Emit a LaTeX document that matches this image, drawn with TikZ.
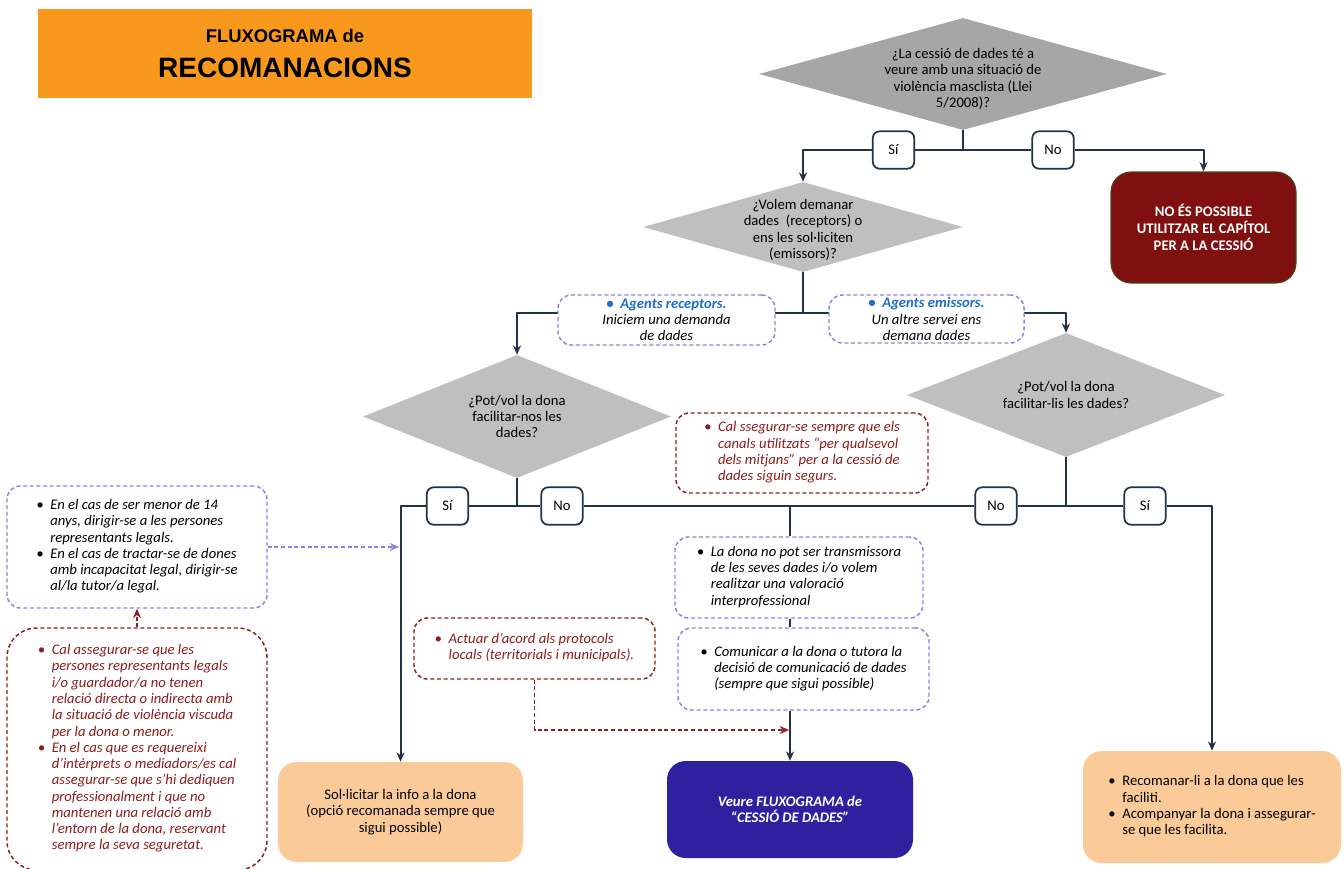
\documentclass[tikz,border=0pt]{standalone}
\usepackage{fontspec}
\setmainfont{Carlito}
\newfontfamily\arialfont{Liberation Sans}
\usetikzlibrary{shapes.geometric,arrows.meta}
\definecolor{orangetitle}{RGB}{248,153,29}
\definecolor{greydark}{RGB}{166,166,166}
\definecolor{greylight}{RGB}{191,191,191}
\definecolor{flowline}{RGB}{35,50,70}
\definecolor{wine}{RGB}{140,30,30}
\definecolor{stopred}{RGB}{128,16,16}
\definecolor{lila}{RGB}{140,130,230}
\definecolor{peach}{RGB}{250,203,153}
\definecolor{indigo}{RGB}{47,32,160}
\definecolor{agentblue}{RGB}{30,110,200}
\begin{document}
\begin{tikzpicture}[x=0.75pt, y=-0.75pt, >={Stealth[length=7pt,width=6pt]}, line join=round,
	font=\fontsize{11}{12.2}\selectfont,
	decision/.style={diamond, fill=greylight, inner sep=-4pt, align=center},
	answer/.style={draw=flowline, line width=1.3pt, fill=white, rounded corners=5pt, minimum width=31pt, minimum height=28pt, inner sep=0pt},
	flow/.style={draw=flowline, line width=1.5pt},
	hint/.style={draw=lila, line width=1.1pt, dash pattern=on 3pt off 2pt, fill=white, rounded corners=10pt, inner sep=0pt, font=\fontsize{11}{12.2}\selectfont\itshape},
	warn/.style={hint, draw=wine, text=wine},
	hintline/.style={lila, line width=1.1pt, dash pattern=on 3pt off 2pt},
	warnline/.style={hintline, wine},
	result/.style={fill=peach, rounded corners=14pt, inner sep=0pt, align=center}]
	\path[use as bounding box, fill=white] (0,0) rectangle (1344,868);
	\path (963,150) coordinate (j1)
		(803,313) coordinate (j2)
		(517,506) coordinate (j3)
		(1066,506) coordinate (j4)
		(790,506) coordinate (j5)
		(789,730) coordinate (j6)
		(399,547) coordinate (j7);
	\node[fill=orangetitle, minimum width=370.5pt, minimum height=66.75pt, align=center, font=\arialfont\bfseries\fontsize{21}{26}\selectfont] (title) at (285,53.5) {{\fontsize{13.8}{16}\selectfont FLUXOGRAMA de}\\RECOMANACIONS};
	\node[decision, fill=greydark, shape aspect=3.64, minimum width=306pt, minimum height=84pt] (d1) at (963,74) {\rule{0pt}{15pt}¿La cessió de dades té a\\veure amb una situació de\\violència masclista (Llei\\5/2008)?};
	\node[answer] (si1) at (893.5,150) {Sí};
	\node[answer] (no1) at (1053,150) {No};
	\node[fill=stopred, draw={rgb,255:red,70;green,70;blue,30}, line width=0.8pt, rounded corners=15pt, minimum width=138.75pt, minimum height=83.25pt, text=white, font=\fontsize{11}{12.5}\selectfont\bfseries, align=center] (stop) at (1203.5,227.5) {NO ÉS POSSIBLE\\UTILITZAR EL CAPÍTOL\\PER A LA CESSIÓ};
	\node[decision, shape aspect=3.56, minimum width=240pt, minimum height=67.5pt] (d2) at (803,227) {\rule{0pt}{12pt}¿Volem demanar\\dades\ \ (receptors) o\\ens les sol·liciten\\(emissors)?};
	\node[decision, shape aspect=2.5, minimum width=231pt, minimum height=92.25pt] (d3) at (517,416.5) {¿Pot/vol la dona\\facilitar-nos les\\dades?};
	\node[decision, shape aspect=2.56, minimum width=238.5pt, minimum height=93pt] (d4) at (1066,395) {¿Pot/vol la dona\\facilitar-lis les dades?};
	\node[warn, minimum width=189pt, minimum height=60pt] (note) at (802,453) {\begin{tabular}{@{}l@{\hspace{5pt}}l@{}}
		\textbullet & Cal ssegurar-se sempre que els\\
		& canals utilitzats “per qualsevol\\
		& dels mitjans” per a la cessió de\\
		& dades siguin segurs.
	\end{tabular}};
	\node[answer] (si2) at (447.5,506) {Sí};
	\node[answer] (no2) at (562,506) {No};
	\node[answer] (no3) at (996,506) {No};
	\node[answer] (si3) at (1145,506) {Sí};
	\node[hint, minimum width=195pt, minimum height=91.5pt] (minor) at (137,547) {\begin{tabular}{@{}l@{\hspace{5pt}}l@{}}
		\textbullet & En el cas de ser menor de 14\\
		& anys, dirigir-se a les persones\\
		& representants legals.\\
		\textbullet & En el cas de tractar-se de dones\\
		& amb incapacitat legal, dirigir-se\\
		& al/la tutor/a legal.
	\end{tabular}};
	\node[warn, rounded corners=22pt, minimum width=195pt, minimum height=181.5pt] (guard) at (137,749) {\begin{tabular}{@{}l@{\hspace{5pt}}l@{}}
		\textbullet & Cal assegurar-se que les\\
		& persones representants legals\\
		& i/o guardador/a no tenen\\
		& relació directa o indirecta amb\\
		& la situació de violència viscuda\\
		& per la dona o menor.\\
		\textbullet & En el cas que es requereixi\\
		& d’intèrprets o mediadors/es cal\\
		& assegurar-se que s’hi dediquen\\
		& professionalment i que no\\
		& mantenen una relació amb\\
		& l’entorn de la dona, reservant\\
		& sempre la seva seguretat.
	\end{tabular}};
	\node[hint, minimum width=186pt, minimum height=60.75pt] (cant) at (799,577.5) {\begin{tabular}{@{}l@{\hspace{5pt}}l@{}}
		\textbullet & La dona no pot ser transmissora\\
		& de les seves dades i/o volem\\
		& realitzar una valoració\\
		& interprofessional
	\end{tabular}};
	\node[hint, minimum width=188.25pt, minimum height=61.5pt] (tell) at (803.5,669) {\begin{tabular}{@{}l@{\hspace{5pt}}l@{}}
		\textbullet & Comunicar a la dona o tutora la\\
		& decisió de comunicació de dades\\
		& (sempre que sigui possible)
	\end{tabular}};
	\node[warn, minimum width=180.75pt, minimum height=45.75pt] (local) at (534.5,648.5) {\begin{tabular}{@{}l@{\hspace{5pt}}l@{}}
		\textbullet & Actuar d’acord als protocols\\
		& locals (territorials i municipals).
	\end{tabular}};
	\node[result, fill=indigo, text=white, font=\fontsize{11}{12.2}\selectfont\bfseries\itshape, minimum width=184.5pt, minimum height=72.75pt] (see) at (790,809.5) {Veure FLUXOGRAMA de\\“CESSIÓ DE DADES”};
	\node[result, minimum width=183.75pt, minimum height=75pt] (ask) at (400.5,812) {Sol·licitar la info a la dona\\(opció recomanada sempre que\\sigui possible)};
	\node[result, minimum width=193.5pt, minimum height=84pt] (rec) at (1212,807) {\begin{tabular}{@{}l@{\hspace{5pt}}l@{}}
		\textbullet & Recomanar-li a la dona que les\\
		& faciliti.\\
		\textbullet & Acompanyar la dona i assegurar-\\
		& se que les facilita.
	\end{tabular}};
	\draw[flow] (d1.south) -- (j1) -- (si1.east) (j1) -- (no1.west);
	\draw[flow,->] (si1.west) -| (d2.north);
	\draw[flow,->] (no1.east) -| (stop.north);
	\draw[flow] (d2.south) -- (j2);
	\draw[flow,->] (j2) -| (d3.north);
	\draw[flow,->] (j2) -| (d4.north);
	\draw[flow] (d3.south) -- (j3) -- (si2.east) (j3) -- (no2.west) (no2.east) -- (j5) -- (no3.west)
		(no3.east) -- (j4) -- (si3.west) (d4.south) -- (j4);
	\draw[flow,->] (si2.west) -| (ask.north);
	\draw[flow,->] (si3.east) -| (rec.north);
	\draw[flow] (j5) -- (j5 |- cant.north) (j5 |- cant.south) -- (j5 |- tell.north);
	\draw[flow,->] (j5 |- tell.south) -- (see.north);
	\draw[hintline,->] (minor.east) -- (j7);
	\draw[warnline,->] (guard.north) -- (minor.south);
	\draw[warnline,->] (local.south) |- (j6);
	\node[hint, minimum width=162.75pt, minimum height=37.5pt, align=center] (recv) at (666.5,320) {\textcolor{agentblue}{\bfseries\textbullet\ \ Agents receptors.}\\Iniciem una demanda\\de dades};
	\node[hint, minimum width=146.25pt, minimum height=36pt, align=center] (emit) at (926.5,319) {\textcolor{agentblue}{\bfseries\textbullet\ \ Agents emissors.}\\Un altre servei ens\\demana dades};
\end{tikzpicture}
\end{document}
